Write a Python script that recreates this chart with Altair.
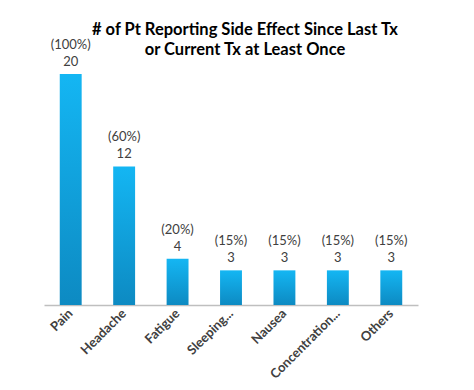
import altair as alt
import pandas as pd

categories = ["Pain", "Headache", "Fatigue", "Sleeping...", "Nausea", "Concentration...", "Others"]
counts = [20, 12, 4, 3, 3, 3, 3]
percents = ["(100%)", "(60%)", "(20%)", "(15%)", "(15%)", "(15%)", "(15%)"]

df = pd.DataFrame({"cat": categories, "n": counts, "pct": percents})

font = "Lato"
x = alt.X("cat:N", sort=categories, title=None,
          scale=alt.Scale(paddingInner=0.59, paddingOuter=0.295),
          axis=alt.Axis(labelAngle=-45, labelAlign="right", labelBaseline="middle",
                        labelFont=font, labelFontSize=13, labelFontWeight="bold",
                        labelColor="#404040", labelPadding=6, ticks=False,
                        domainColor="#BFBFBF", domainWidth=1.5))
y = alt.Y("n:Q", title=None, scale=alt.Scale(domain=[0, 20], nice=False), axis=None)

grad = alt.Gradient(gradient="linear", x1=0, y1=0, x2=0, y2=1,
                    stops=[alt.GradientStop(color="#14B6F3", offset=0),
                           alt.GradientStop(color="#0D8AC2", offset=1)])

bars = alt.Chart(df).mark_bar(color=grad).encode(x=x, y=y)
num = alt.Chart(df).mark_text(dy=-5, baseline="bottom", font=font, fontSize=13,
                              color="#404040").encode(x=x, y=y, text="n:Q")
pct = alt.Chart(df).mark_text(dy=-22, baseline="bottom", font=font, fontSize=13,
                              color="#404040").encode(x=x, y=y, text="pct:N")

chart = alt.layer(bars, num, pct).properties(
    width=374, height=231,
    padding={"left": 36, "top": 66, "right": 30, "bottom": 80},
    autosize=alt.AutoSizeParams(type="none"),
    title=alt.TitleParams(["# of Pt Reporting Side Effect Since Last Tx",
                           "or Current Tx at Least Once"],
                          font=font, fontSize=16.5, fontWeight="bold", color="#000000",
                          frame="group", anchor="middle", dx=14, offset=-19,
                          lineHeight=20),
).configure(background="white").configure_view(strokeWidth=0, stroke="transparent")

chart.save("out.html", embed_options={"renderer": "svg", "actions": False})
